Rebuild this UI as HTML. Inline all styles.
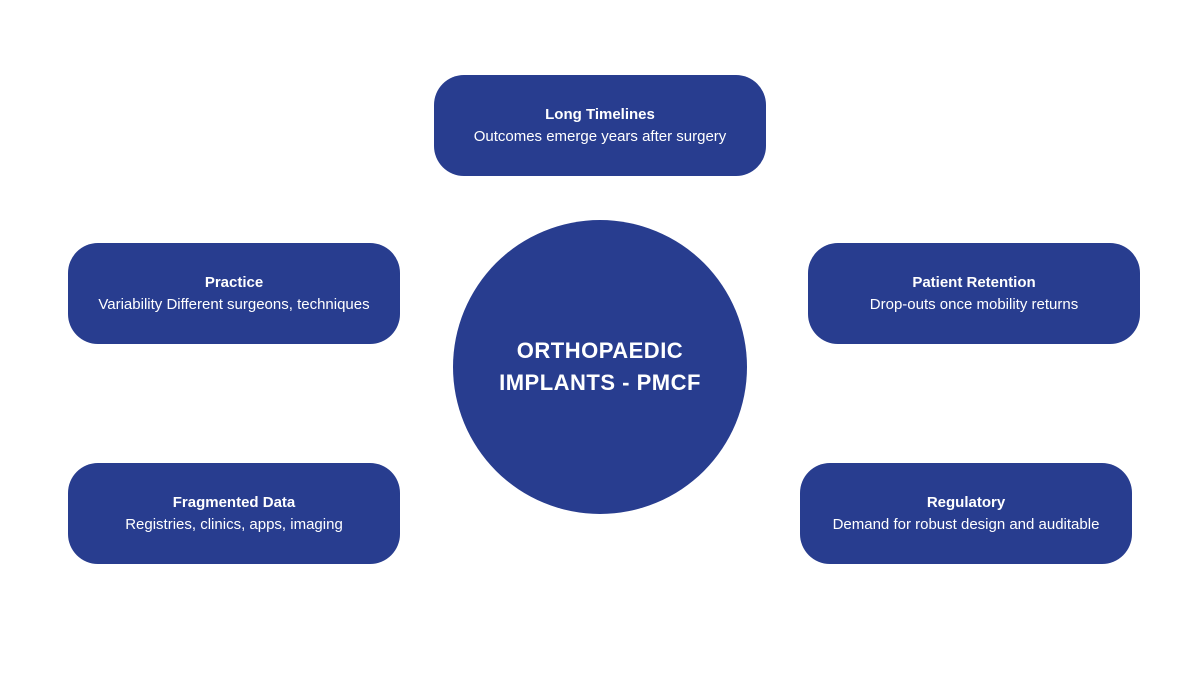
<!DOCTYPE html>
<html><head><style>
body{margin:0;width:1200px;height:675px;background:#fff;position:relative;overflow:hidden;font-family:"Liberation Sans",sans-serif;}
.b{position:absolute;width:332px;height:101px;background:#283d8f;border-radius:30px;color:#fff;text-align:center;box-sizing:border-box;display:flex;flex-direction:column;justify-content:center;font-size:15px;line-height:22px;}
.b b{font-weight:bold;}
.c{position:absolute;left:453px;top:220px;width:294px;height:294px;border-radius:50%;background:#283d8f;color:#fff;display:flex;align-items:center;justify-content:center;text-align:center;font-weight:bold;font-size:22px;line-height:32px;letter-spacing:0.5px;}
</style></head><body>
<div class="b" style="left:434px;top:75px"><b>Long Timelines</b><span>Outcomes emerge years after surgery</span></div>
<div class="b" style="left:68px;top:243px"><b>Practice</b><span>Variability Different surgeons, techniques</span></div>
<div class="b" style="left:808px;top:243px"><b>Patient Retention</b><span>Drop-outs once mobility returns</span></div>
<div class="b" style="left:68px;top:463px"><b>Fragmented Data</b><span>Registries, clinics, apps, imaging</span></div>
<div class="b" style="left:800px;top:463px"><b>Regulatory</b><span>Demand for robust design and auditable</span></div>
<div class="c"><div>ORTHOPAEDIC<br>IMPLANTS - PMCF</div></div>
</body></html>
